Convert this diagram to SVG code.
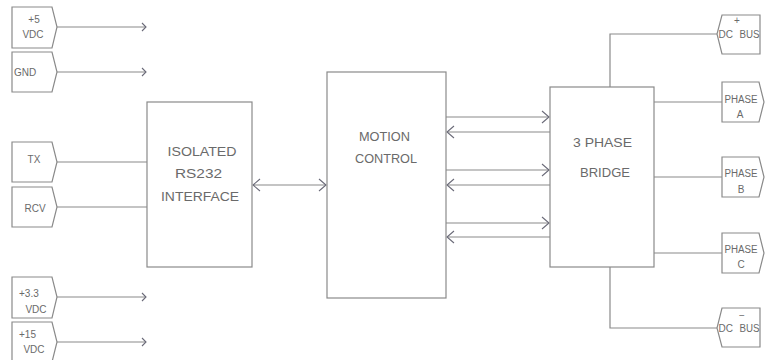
<svg xmlns="http://www.w3.org/2000/svg" width="771" height="360" viewBox="0 0 771 360">
<style>
.ln{fill:none;stroke:#8a8a8a;stroke-width:1.2}
.bx{fill:#fff;stroke:#8a8a8a;stroke-width:1.2}
.t{font-family:"Liberation Sans",Arial,sans-serif;font-size:13.5px;fill:#6a6a6a}
.s{font-family:"Liberation Sans",Arial,sans-serif;font-size:10px;fill:#6a6a6a}
</style>
<defs>
<marker id="as" viewBox="-6 -6 8 12" markerWidth="8" markerHeight="12" refX="0" refY="0" orient="auto" markerUnits="userSpaceOnUse">
<path d="M-4,-4 L0,0 L-4,4" fill="none" stroke="#6a6a78" stroke-width="1.1"/>
</marker>
<marker id="al" viewBox="-9 -8 10 16" markerWidth="10" markerHeight="16" refX="0" refY="0" orient="auto" markerUnits="userSpaceOnUse">
<path d="M-7,-6 L0,0 L-7,6" fill="none" stroke="#6a6a78" stroke-width="1.1"/>
</marker>
<marker id="als" viewBox="-9 -8 10 16" markerWidth="10" markerHeight="16" refX="0" refY="0" orient="auto-start-reverse" markerUnits="userSpaceOnUse">
<path d="M-7,-6 L0,0 L-7,6" fill="none" stroke="#6a6a78" stroke-width="1.1"/>
</marker>
</defs>
<rect width="771" height="360" fill="#fff"/>
<g id="connectors">
<line class="ln" x1="57" y1="27" x2="146" y2="27" marker-end="url(#as)"/>
<line class="ln" x1="57" y1="72" x2="146" y2="72" marker-end="url(#as)"/>
<line class="ln" x1="57" y1="162" x2="147" y2="162"/>
<line class="ln" x1="57" y1="207" x2="147" y2="207"/>
<line class="ln" x1="57" y1="297" x2="146" y2="297" marker-end="url(#as)"/>
<line class="ln" x1="57" y1="342" x2="146" y2="342" marker-end="url(#as)"/>
<line class="ln" x1="253" y1="185" x2="326" y2="185" marker-start="url(#als)" marker-end="url(#als)"/>
<line class="ln" x1="446" y1="117" x2="549" y2="117" marker-end="url(#al)"/>
<line class="ln" x1="550" y1="132" x2="447" y2="132" marker-end="url(#al)"/>
<line class="ln" x1="446" y1="170" x2="549" y2="170" marker-end="url(#al)"/>
<line class="ln" x1="550" y1="185" x2="447" y2="185" marker-end="url(#al)"/>
<line class="ln" x1="446" y1="223" x2="549" y2="223" marker-end="url(#al)"/>
<line class="ln" x1="550" y1="237" x2="447" y2="237" marker-end="url(#al)"/>
<polyline class="ln" points="610,87 610,34 717,34"/>
<polyline class="ln" points="610,267 610,328 717,328"/>
<line class="ln" x1="654" y1="102" x2="722" y2="102"/>
<line class="ln" x1="654" y1="177" x2="722" y2="177"/>
<line class="ln" x1="654" y1="253" x2="722" y2="253"/>
</g>
<g id="in-5v">
<path class="bx" d="M12,7 H52 L57,27 L52,48 H12 Z"/>
<text class="s" x="34" y="23" text-anchor="middle">+5</text>
<text class="s" x="33" y="38" text-anchor="middle">VDC</text>
</g>
<g id="in-gnd">
<path class="bx" d="M12,52 H52 L57,72 L52,92 H12 Z"/>
<text class="s" x="14" y="76">GND</text>
</g>
<g id="in-tx">
<path class="bx" d="M12,142 H52 L57,162 L52,182 H12 Z"/>
<text class="s" x="34" y="163" text-anchor="middle">TX</text>
</g>
<g id="in-rcv">
<path class="bx" d="M12,187 H52 L57,207 L52,227 H12 Z"/>
<text class="s" x="35" y="212" text-anchor="middle">RCV</text>
</g>
<g id="in-3v3">
<path class="bx" d="M12,277 H52 L57,297 L52,318 H12 Z"/>
<text class="s" x="19" y="297">+3.3</text>
<text class="s" x="36" y="313" text-anchor="middle">VDC</text>
</g>
<g id="in-15v">
<path class="bx" d="M12,322 H52 L57,342 L52,362 H12 Z"/>
<text class="s" x="19" y="338">+15</text>
<text class="s" x="34" y="353" text-anchor="middle">VDC</text>
</g>
<g id="rs232">
<rect class="bx" x="147" y="102" width="105" height="165"/>
<text class="t" x="202" y="156" text-anchor="middle" textLength="69" lengthAdjust="spacingAndGlyphs">ISOLATED</text>
<text class="t" x="198.5" y="178" text-anchor="middle" textLength="47" lengthAdjust="spacingAndGlyphs">RS232</text>
<text class="t" x="200" y="201" text-anchor="middle" textLength="78" lengthAdjust="spacingAndGlyphs">INTERFACE</text>
</g>
<g id="motion">
<rect class="bx" x="327" y="72" width="119" height="226"/>
<text class="t" x="384.5" y="141" text-anchor="middle" textLength="51" lengthAdjust="spacingAndGlyphs">MOTION</text>
<text class="t" x="386" y="163" text-anchor="middle" textLength="62" lengthAdjust="spacingAndGlyphs">CONTROL</text>
</g>
<g id="bridge">
<rect class="bx" x="550" y="87" width="104" height="180"/>
<text class="t" x="602.5" y="147" text-anchor="middle" textLength="59" lengthAdjust="spacingAndGlyphs">3 PHASE</text>
<text class="t" x="605" y="177" text-anchor="middle" textLength="50" lengthAdjust="spacingAndGlyphs">BRIDGE</text>
</g>
<g id="out-dcp">
<path class="bx" d="M722,15 H760 V54 H722 L717,34 Z"/>
<text class="s" x="737" y="24" text-anchor="middle">+</text>
<text class="s" x="718.5" y="38">DC</text>
<text class="s" x="739.5" y="38" textLength="20" lengthAdjust="spacingAndGlyphs">BUS</text>
</g>
<g id="out-a">
<path class="bx" d="M722,82 H759 L764,102 L759,122 H722 Z"/>
<text class="s" x="741" y="103" text-anchor="middle" textLength="33" lengthAdjust="spacingAndGlyphs">PHASE</text>
<text class="s" x="740" y="118" text-anchor="middle">A</text>
</g>
<g id="out-b">
<path class="bx" d="M722,157 H759 L764,177 L759,197 H722 Z"/>
<text class="s" x="741" y="177" text-anchor="middle" textLength="33" lengthAdjust="spacingAndGlyphs">PHASE</text>
<text class="s" x="741" y="193" text-anchor="middle">B</text>
</g>
<g id="out-c">
<path class="bx" d="M722,233 H759 L764,253 L759,273 H722 Z"/>
<text class="s" x="741" y="253" text-anchor="middle" textLength="33" lengthAdjust="spacingAndGlyphs">PHASE</text>
<text class="s" x="741" y="268" text-anchor="middle">C</text>
</g>
<g id="out-dcn">
<path class="bx" d="M722,308 H760 V347 H722 L717,328 Z"/>
<text class="s" x="742" y="319" text-anchor="middle">−</text>
<text class="s" x="718.5" y="332">DC</text>
<text class="s" x="739.5" y="332" textLength="20" lengthAdjust="spacingAndGlyphs">BUS</text>
</g>
</svg>
